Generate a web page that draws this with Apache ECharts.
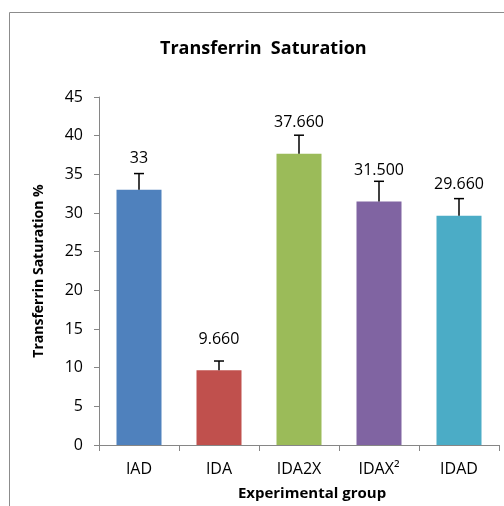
<!DOCTYPE html>
<html>
<head>
<meta charset="utf-8">
<script src="https://cdn.jsdelivr.net/npm/echarts@6/dist/echarts.min.js"></script>
<style>
  html, body { margin: 0; padding: 0; background: #fff; }
  #chart { width: 504px; height: 506px; }
</style>
</head>
<body>
<div id="chart"></div>
<script>
const categories = ['IAD', 'IDA', 'IDA2X', 'IDAX²', 'IDAD'];
const values = [33, 9.66, 37.66, 31.5, 29.66];
const valueLabels = ['33', '9.660', '37.660', '31.500', '29.660'];
const errors = [2.1, 1.2, 2.4, 2.6, 2.2];
const barColors = ['#4F81BD', '#C0504D', '#9BBB59', '#8064A2', '#4BACC6'];

const font = '"Open Sans", "Noto Sans", sans-serif';

const chart = echarts.init(document.getElementById('chart'));
chart.setOption({
  backgroundColor: '#fff',
  animation: false,
  graphic: [{
    type: 'rect',
    shape: { x: 9.5, y: 12.5, width: 520, height: 520 },
    style: { fill: 'none', stroke: '#8c8c8c', lineWidth: 1 },
    silent: true
  }],
  title: {
    text: 'Transferrin  Saturation',
    left: 155,
    top: 35,
    textStyle: { fontFamily: font, fontSize: 18, fontWeight: 'bold', color: '#000' }
  },
  grid: { left: 99, right: 5, top: 97, bottom: 59 },
  xAxis: {
    type: 'category',
    data: categories,
    name: 'Experimental group',
    nameLocation: 'middle',
    nameGap: 41,
    nameTextStyle: { fontFamily: font, fontSize: 15, fontWeight: 'bold', color: '#000', padding: [0, 0, 0, 26] },
    axisLine: { lineStyle: { color: '#868686' } },
    axisTick: { show: true, length: 6, lineStyle: { color: '#868686' } },
    axisLabel: { fontFamily: font, fontSize: 16, color: '#000', margin: 16 }
  },
  yAxis: {
    type: 'value',
    min: 0,
    max: 45,
    interval: 5,
    name: 'Transferrin Saturation %',
    nameLocation: 'middle',
    nameGap: 53,
    nameTextStyle: { fontFamily: font, fontSize: 14, fontWeight: 'bold', color: '#000' },
    axisLine: { show: true, lineStyle: { color: '#868686' } },
    axisTick: { show: true, length: 5, inside: false, lineStyle: { color: '#868686' } },
    splitLine: { show: false },
    axisLabel: { fontFamily: font, fontSize: 16, color: '#000', margin: 16 }
  },
  series: [
    {
      type: 'bar',
      barWidth: 45,
      data: values.map((v, i) => ({ value: v, itemStyle: { color: barColors[i] } })),
      label: {
        show: true,
        position: 'top',
        distance: 23,
        fontFamily: font,
        fontSize: 16,
        color: '#000',
        formatter: (p) => valueLabels[p.dataIndex]
      },
      z: 2
    },
    {
      type: 'custom',
      data: values.map((v, i) => [i, v, v + errors[i]]),
      renderItem: (params, api) => {
        const base = api.coord([api.value(0), api.value(1)]);
        const top = api.coord([api.value(0), api.value(2)]);
        const half = 5;
        const st = { stroke: '#000', lineWidth: 1.5 };
        return {
          type: 'group',
          children: [
            { type: 'line', shape: { x1: base[0], y1: base[1], x2: top[0], y2: top[1] }, style: st },
            { type: 'line', shape: { x1: top[0] - half, y1: top[1], x2: top[0] + half, y2: top[1] }, style: st }
          ]
        };
      },
      z: 3
    }
  ]
});
</script>
</body>
</html>
